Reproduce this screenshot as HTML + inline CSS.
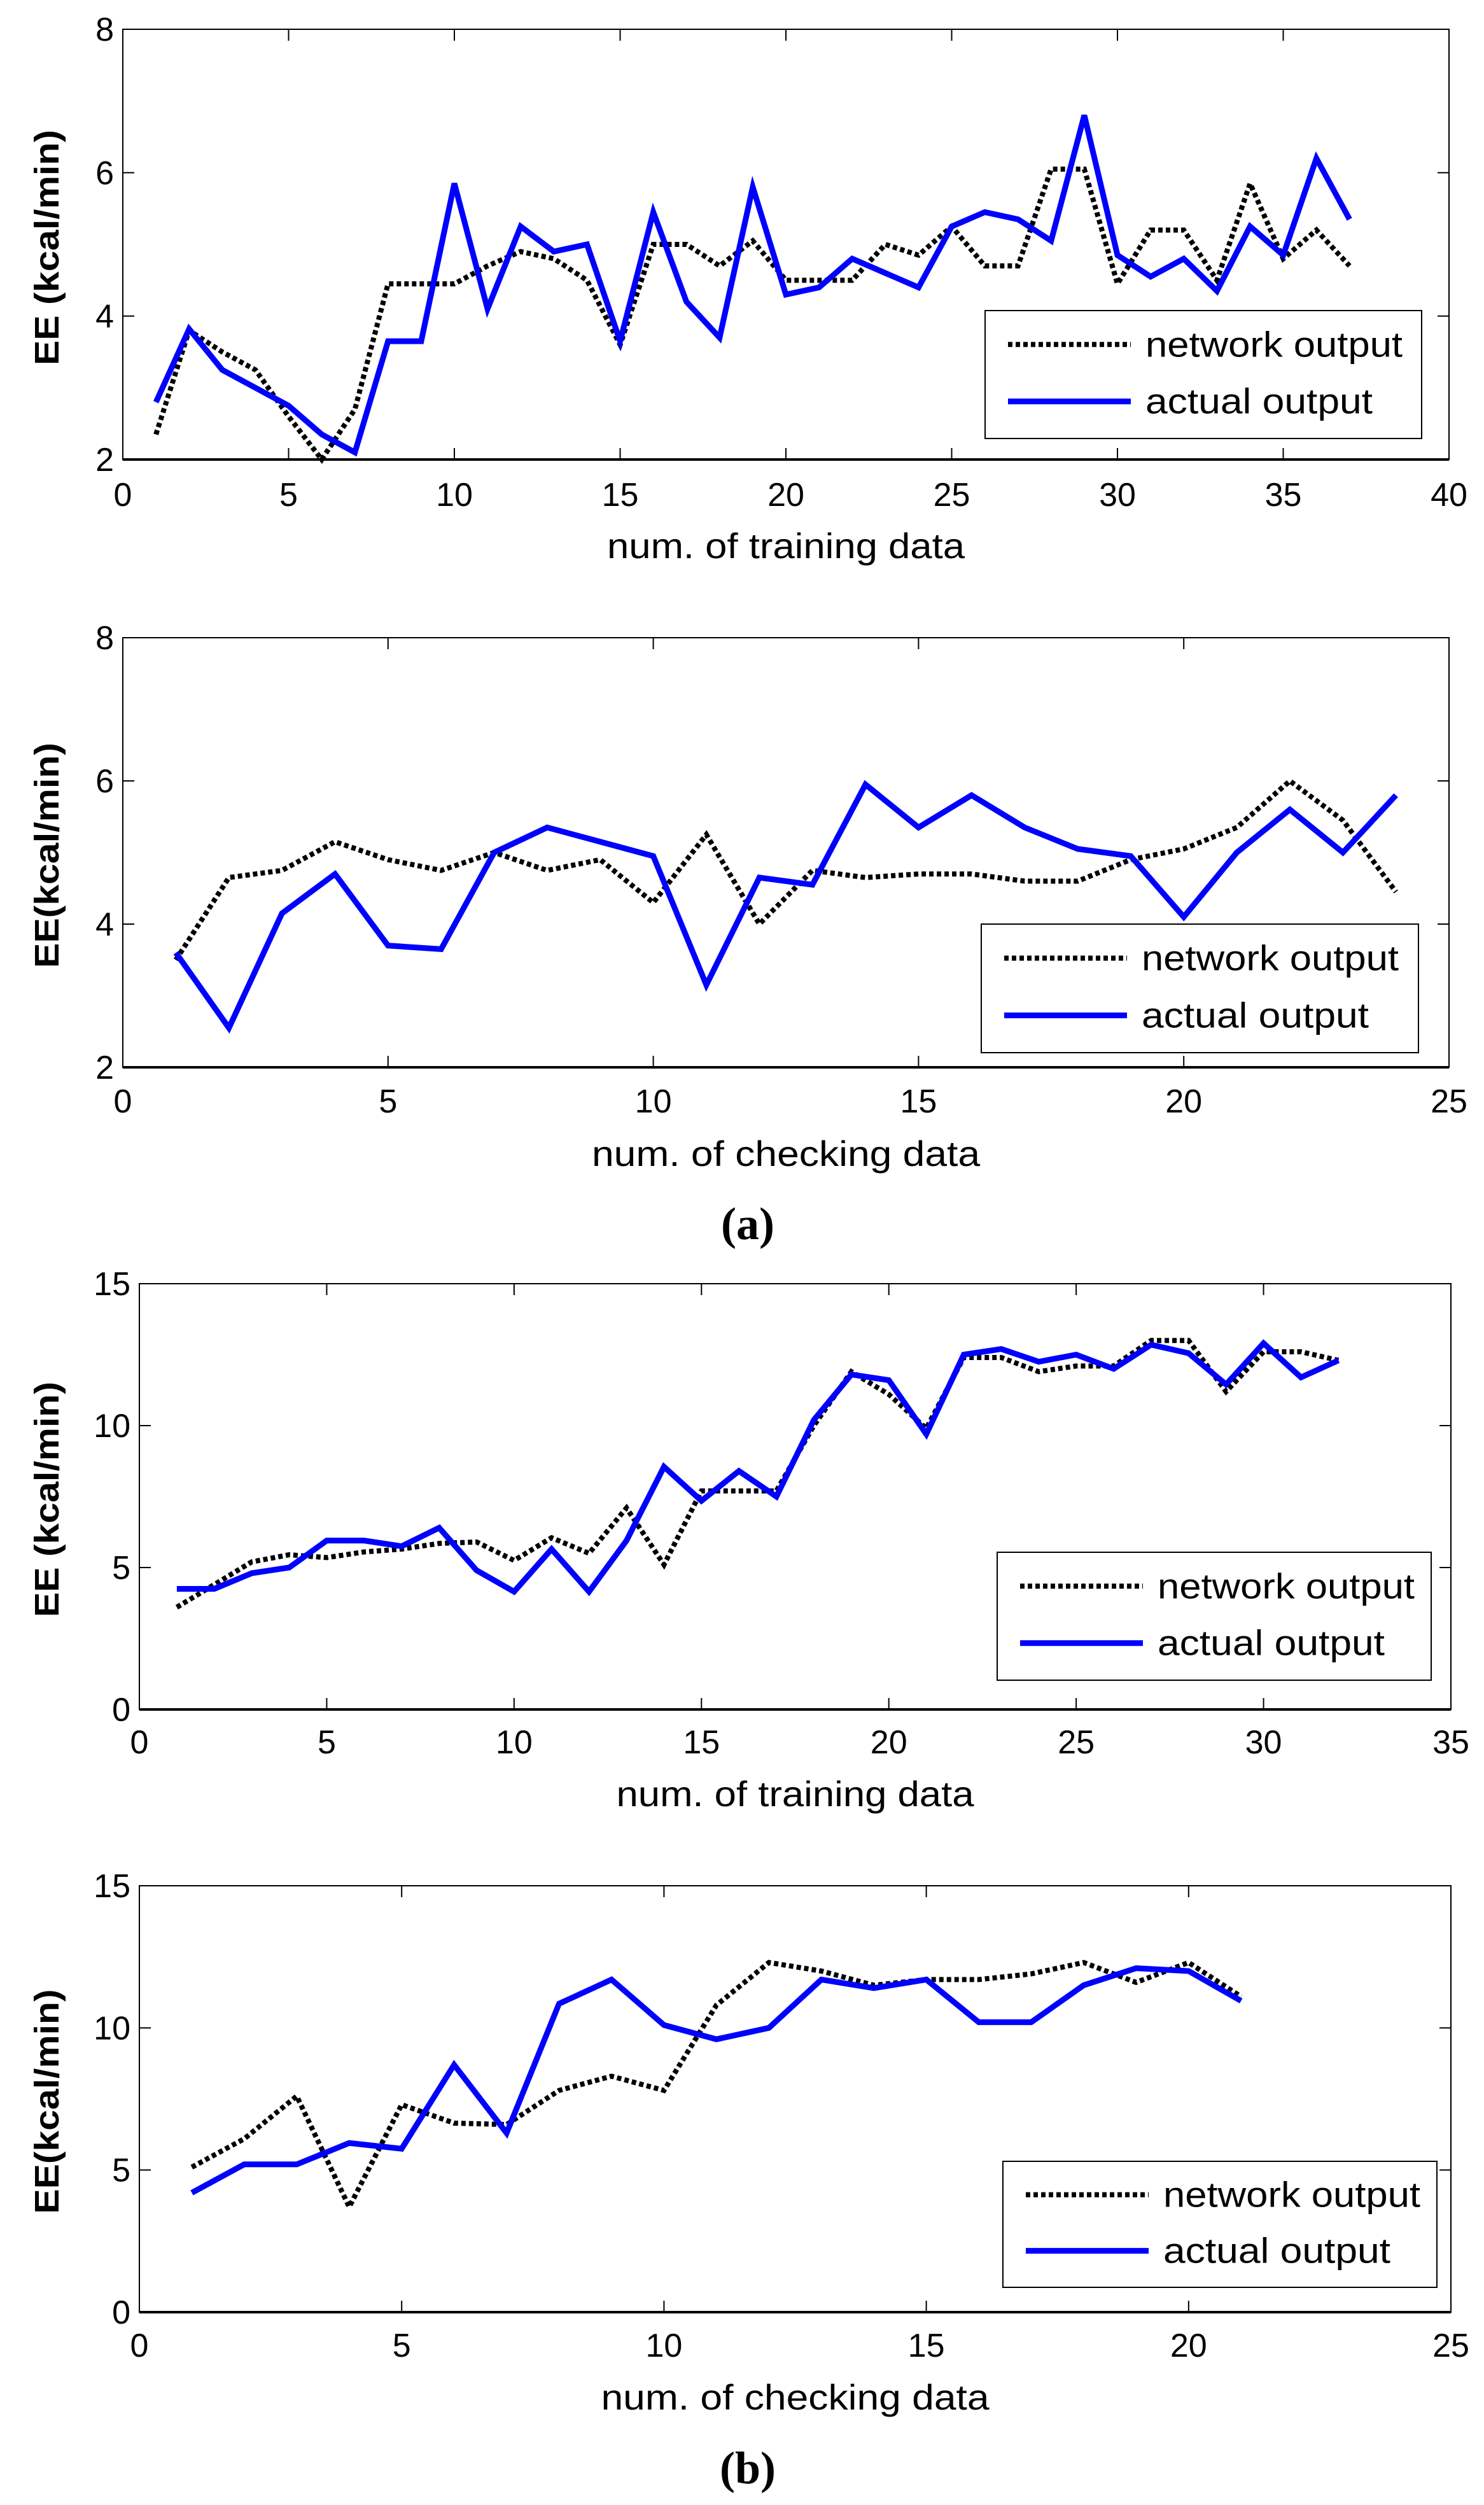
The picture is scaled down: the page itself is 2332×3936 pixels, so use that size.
<!DOCTYPE html>
<html><head><meta charset="utf-8"><style>
html,body{margin:0;padding:0;background:#fff}
svg{display:block}
text{font-family:"Liberation Sans",Arial,sans-serif;fill:#000}
</style></head><body>
<svg id="fig" width="2332" height="3936" viewBox="0 0 2332 3936" xmlns="http://www.w3.org/2000/svg"></svg>
<script>
// Panel 1 (training, a)
const p1Net = [2.35,3.8,3.5,3.25,2.6,2.0,2.7,4.45,4.45,4.45,4.7,4.9,4.8,4.5,3.6,5.0,5.0,4.7,5.05,4.5,4.5,4.5,5.0,4.85,5.25,4.7,4.7,6.05,6.05,4.45,5.2,5.2,4.5,5.85,4.8,5.2,4.7];
const p1Act = [2.8,3.82,3.25,3.0,2.75,2.35,2.1,3.65,3.65,5.85,4.1,5.25,4.9,5.0,3.65,5.45,4.2,3.7,5.8,4.3,4.4,4.8,4.6,4.4,5.25,5.45,5.35,5.05,6.8,4.85,4.55,4.8,4.35,5.25,4.85,6.2,5.35];
const p1XTicks = [0,5,10,15,20,25,30,35,40];
const p1YTicks = [2,4,6,8];
// Panel 2 (checking, a)
const p2Net = [3.5,4.65,4.75,5.15,4.9,4.75,5.0,4.75,4.9,4.3,5.25,4.0,4.75,4.65,4.7,4.7,4.6,4.6,4.9,5.05,5.35,6.0,5.45,4.45];
const p2Act = [3.6,2.55,4.15,4.7,3.7,3.65,5.0,5.35,5.15,4.95,3.15,4.65,4.55,5.95,5.35,5.8,5.35,5.05,4.95,4.1,5.0,5.6,5.0,5.8];
const p2XTicks = [0,5,10,15,20,25];
const p2YTicks = [2,4,6,8];
// Panel 3 (training, b)
const p3Net = [3.6,4.4,5.2,5.45,5.35,5.55,5.65,5.85,5.9,5.25,6.05,5.5,7.1,5.1,7.7,7.7,7.7,10.0,11.9,11.1,9.9,12.4,12.4,11.9,12.1,12.1,13.0,13.0,11.2,12.6,12.6,12.3];
const p3Act = [4.25,4.25,4.8,5.0,5.95,5.95,5.75,6.4,4.9,4.15,5.65,4.15,5.95,8.55,7.35,8.4,7.5,10.2,11.8,11.6,9.7,12.5,12.7,12.25,12.5,12.0,12.85,12.55,11.45,12.9,11.7,12.3];
const p3XTicks = [0,5,10,15,20,25,30,35];
const p3YTicks = [0,5,10,15];
// Panel 4 (checking, b)
const p4Net = [5.1,6.1,7.6,3.7,7.3,6.65,6.6,7.8,8.3,7.8,10.8,12.3,12.0,11.5,11.7,11.7,11.9,12.3,11.6,12.3,11.1];
const p4Act = [4.2,5.2,5.2,5.95,5.75,8.7,6.3,10.85,11.7,10.1,9.6,10.0,11.7,11.4,11.7,10.2,10.2,11.5,12.1,12.0,10.95];
const p4XTicks = [0,5,10,15,20,25];
const p4YTicks = [0,5,10,15];

const NS = "http://www.w3.org/2000/svg";
const svg = document.getElementById('fig');
function mk(tag, attrs, parent){
  const e = document.createElementNS(NS, tag);
  for (const k in attrs) e.setAttribute(k, attrs[k]);
  (parent||svg).appendChild(e);
  return e;
}
function panel(cfg){
  const g = mk('g', {});
  
  
  const {x0,x1,y0,y1,xmin,xmax,ymin,ymax} = cfg;
  const sx = v => x0 + (v - xmin) / (xmax - xmin) * (x1 - x0);
  const sy = v => y1 - (v - ymin) / (ymax - ymin) * (y1 - y0);
  const frame = mk('rect', {x:x0, y:y0, width:x1-x0, height:y1-y0, fill:'none', stroke:'#000', 'stroke-width':2}, g);
  
  
  mk('line', {x1:x0, y1:y1, x2:x1, y2:y1, stroke:'#000', 'stroke-width':4}, g);
  cfg.xt.forEach(v => {
    const X = sx(v);
    mk('line', {x1:X, y1:y1, x2:X, y2:y1-18, stroke:'#000', 'stroke-width':2}, g);
    mk('line', {x1:X, y1:y0, x2:X, y2:y0+18, stroke:'#000', 'stroke-width':2}, g);
    const t = mk('text', {x:X, y:cfg.xtY, 'font-size':52, 'text-anchor':'middle'}, g);
    
    
    t.textContent = v;
  });
  cfg.yt.forEach(v => {
    const Y = sy(v);
    mk('line', {x1:x0, y1:Y, x2:x0+18, y2:Y, stroke:'#000', 'stroke-width':2}, g);
    mk('line', {x1:x1, y1:Y, x2:x1-18, y2:Y, stroke:'#000', 'stroke-width':2}, g);
    const t = mk('text', {x:x0-14, y:Y+18, 'font-size':52, 'text-anchor':'end'}, g);
    
    
    t.textContent = v;
  });
  const ptsN = cfg.net.map((v,i)=>sx(i+1)+','+sy(v)).join(' ');
  const ln = mk('polyline', {points:ptsN, fill:'none', stroke:'#000', 'stroke-width':8, 'stroke-dasharray':'7 5', 'stroke-linejoin':'miter'}, g);
  
  
  const ptsA = cfg.act.map((v,i)=>sx(i+1)+','+sy(v)).join(' ');
  const la = mk('polyline', {points:ptsA, fill:'none', stroke:'#0000ff', 'stroke-width':9, 'stroke-linejoin':'miter'}, g);
  
  
  const L = cfg.leg;
  const lg = mk('g', {}, g);
  
  
  mk('rect', {x:L.x, y:L.y, width:L.w, height:L.h, fill:'#fff', stroke:'#000', 'stroke-width':2}, lg);
  const e1y = L.y + L.h*0.265, e2y = L.y + L.h*0.71;
  mk('line', {x1:L.x+36, y1:e1y, x2:L.x+229, y2:e1y, stroke:'#000', 'stroke-width':8, 'stroke-dasharray':'7 5'}, lg);
  mk('line', {x1:L.x+36, y1:e2y, x2:L.x+229, y2:e2y, stroke:'#0000ff', 'stroke-width':9}, lg);
  const t1 = mk('text', {x:L.x+252, y:e1y+19, 'font-size':56, textLength:404, lengthAdjust:'spacingAndGlyphs'}, lg);
  
  
  t1.textContent = 'network output';
  const t2 = mk('text', {x:L.x+252, y:e2y+19, 'font-size':56, textLength:357, lengthAdjust:'spacingAndGlyphs'}, lg);
  
  
  t2.textContent = 'actual output';
  const xl = mk('text', {x:(x0+x1)/2, y:cfg.xlY, 'font-size':56, 'text-anchor':'middle', textLength:cfg.xlLen, lengthAdjust:'spacingAndGlyphs'}, g);
  
  
  xl.textContent = cfg.xlabel;
  const yl = mk('text', {x:0, y:0, 'font-size':54, 'font-weight':'bold', 'text-anchor':'middle', textLength:cfg.ylLen, lengthAdjust:'spacingAndGlyphs', transform:'translate(92,'+cfg.ylC+') rotate(-90)'}, g);
  
  
  yl.textContent = cfg.ylabel;
}
panel({name:'chart-a-training', x0:193,x1:2277,y0:46,y1:722,xmin:0,xmax:40,ymin:2,ymax:8,
  xt:p1XTicks, yt:p1YTicks, net:p1Net, act:p1Act, xtY:795,
  leg:{x:1548,y:488,w:686,h:201}, xlabel:'num. of training data', xlY:877, xlLen:562,
  ylabel:'EE  (kcal/min)', ylC:389, ylLen:370});
panel({name:'chart-a-checking', x0:193,x1:2277,y0:1002,y1:1677,xmin:0,xmax:25,ymin:2,ymax:8,
  xt:p2XTicks, yt:p2YTicks, net:p2Net, act:p2Act, xtY:1748,
  leg:{x:1542,y:1452,w:687,h:202}, xlabel:'num. of checking data', xlY:1832, xlLen:610,
  ylabel:'EE(kcal/min)', ylC:1344, ylLen:354});
panel({name:'chart-b-training', x0:219,x1:2280,y0:2017,y1:2686,xmin:0,xmax:35,ymin:0,ymax:15,
  xt:p3XTicks, yt:p3YTicks, net:p3Net, act:p3Act, xtY:2755,
  leg:{x:1567,y:2439,w:682,h:201}, xlabel:'num. of training data', xlY:2838, xlLen:562,
  ylabel:'EE  (kcal/min)', ylC:2356, ylLen:370});
panel({name:'chart-b-checking', x0:219,x1:2280,y0:2963,y1:3633,xmin:0,xmax:25,ymin:0,ymax:15,
  xt:p4XTicks, yt:p4YTicks, net:p4Net, act:p4Act, xtY:3703,
  leg:{x:1576,y:3396,w:682,h:198}, xlabel:'num. of checking data', xlY:3786, xlLen:610,
  ylabel:'EE(kcal/min)', ylC:3302, ylLen:353});
const ca = mk('text', {x:1175, y:1947, 'font-size':72, 'text-anchor':'middle', style:'font-family:"Liberation Serif",serif;font-weight:bold'});


ca.textContent = '(a)';
const cb = mk('text', {x:1175, y:3902, 'font-size':72, 'text-anchor':'middle', style:'font-family:"Liberation Serif",serif;font-weight:bold'});


cb.textContent = '(b)';
</script>
</body></html>
